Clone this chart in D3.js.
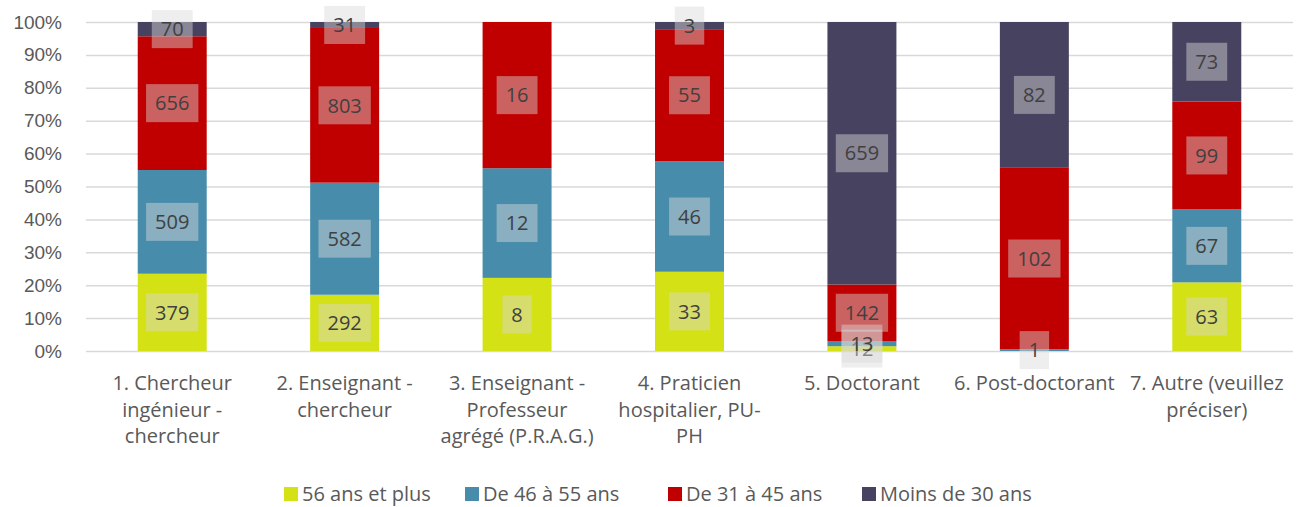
<!DOCTYPE html>
<html>
<head>
<meta charset="utf-8">
<script src="https://cdn.jsdelivr.net/npm/d3@7"></script>
<style>
  body { margin: 0; background: #fff; }
  svg { display: block; font-family: "Open Sans", "Noto Sans", sans-serif; }
</style>
</head>
<body>
<svg id="chart"></svg>
<script>
const categories = [
  ['1. Chercheur', 'ingénieur -', 'chercheur'],
  ['2. Enseignant -', 'chercheur'],
  ['3. Enseignant -', 'Professeur', 'agrégé (P.R.A.G.)'],
  ['4. Praticien', 'hospitalier, PU-', 'PH'],
  ['5. Doctorant'],
  ['6. Post-doctorant'],
  ['7. Autre (veuillez', 'préciser)']
];
const seriesNames = ['56 ans et plus', 'De 46 à 55 ans', 'De 31 à 45 ans', 'Moins de 30 ans'];
const colors = ['#d4e114', '#478cab', '#c00000', '#47425f'];

// null = no value in that cell
const ans56 = [379, 292, 8, 33, 12, null, 63];
const ans46 = [509, 582, 12, 46, 13, 1, 67];
const ans31 = [656, 803, 16, 55, 142, 102, 99];
const moins30 = [70, 31, null, 3, 659, 82, 73];

const yTicks = [0, 0.1, 0.2, 0.3, 0.4, 0.5, 0.6, 0.7, 0.8, 0.9, 1];

const width = 1302, height = 507;
const margin = { top: 22, right: 9, bottom: 156, left: 86 };
const contentWidth = width - margin.left - margin.right;
const contentHeight = height - margin.top - margin.bottom;

const svg = d3.select('#chart').attr('width', width).attr('height', height);
const chart = svg.append('g').attr('transform', `translate(${margin.left},${margin.top})`);

const allSeries = [ans56, ans46, ans31, moins30];
const rows = categories.map((c, i) => {
  const row = { idx: i };
  seriesNames.forEach((s, k) => { row[s] = allSeries[k][i] || 0; });
  return row;
});

const stacked = d3.stack().keys(seriesNames).offset(d3.stackOffsetExpand)(rows);

const x = d3.scaleBand()
  .domain(categories.map((c, i) => i))
  .range([0, contentWidth])
  .paddingInner(0.6)
  .paddingOuter(0.3);

const y = d3.scaleLinear().domain([0, 1]).range([contentHeight, 0]);

// gridlines + y labels
chart.append('g')
  .call(d3.axisLeft(y).tickValues(yTicks).tickSize(-contentWidth).tickFormat(d3.format('.0%')))
  .call(g => g.select('.domain').remove())
  .call(g => g.selectAll('line').attr('stroke', '#d9d9d9').attr('stroke-width', 1.5))
  .call(g => g.selectAll('text')
    .attr('x', -24)
    .attr('fill', '#595959')
    .style('font-size', '19px'));

// bars
chart.selectAll('.series')
  .data(stacked)
  .enter()
  .append('g')
  .attr('fill', (d, k) => colors[k])
  .selectAll('rect')
  .data(d => d)
  .enter()
  .append('rect')
  .attr('x', d => x(d.data.idx))
  .attr('y', d => y(d[1]))
  .attr('width', x.bandwidth())
  .attr('height', d => y(d[0]) - y(d[1]));

// data labels
stacked.forEach((s, k) => {
  const raw = allSeries[k];
  s.forEach((d, i) => {
    if (raw[i] == null) return;
    const cx = x(i) + x.bandwidth() / 2;
    const cy = y((d[0] + d[1]) / 2);
    const g = chart.append('g').attr('transform', `translate(${cx},${cy})`);
    const t = g.append('text')
      .attr('text-anchor', 'middle')
      .attr('dy', '0.36em')
      .attr('fill', '#404040')
      .style('font-size', '20px')
      .text(raw[i]);
    const w = t.node().getComputedTextLength();
    g.insert('rect', 'text')
      .attr('x', -w / 2 - 9)
      .attr('y', -19)
      .attr('width', w + 18)
      .attr('height', 38)
      .attr('fill', '#d9d9d9')
      .attr('fill-opacity', 0.45);
  });
});

// category labels
const xAxis = chart.append('g').attr('transform', `translate(0,${contentHeight})`);
categories.forEach((lines, i) => {
  const t = xAxis.append('text')
    .attr('x', x(i) + x.bandwidth() / 2)
    .attr('y', 39)
    .attr('text-anchor', 'middle')
    .attr('fill', '#595959')
    .style('font-size', '20px');
  lines.forEach((line, j) => {
    t.append('tspan')
      .attr('x', x(i) + x.bandwidth() / 2)
      .attr('dy', j === 0 ? 0 : 26.5)
      .text(line);
  });
});

// legend
const legendX = [284, 465, 668, 862];
const legend = svg.append('g').attr('transform', 'translate(0,494)');
seriesNames.forEach((name, k) => {
  legend.append('rect')
    .attr('x', legendX[k])
    .attr('y', -7)
    .attr('width', 14)
    .attr('height', 14)
    .attr('fill', colors[k]);
  legend.append('text')
    .attr('x', legendX[k] + 18)
    .attr('dy', '0.36em')
    .attr('fill', '#595959')
    .style('font-size', '20px')
    .text(name);
});
</script>
</body>
</html>
